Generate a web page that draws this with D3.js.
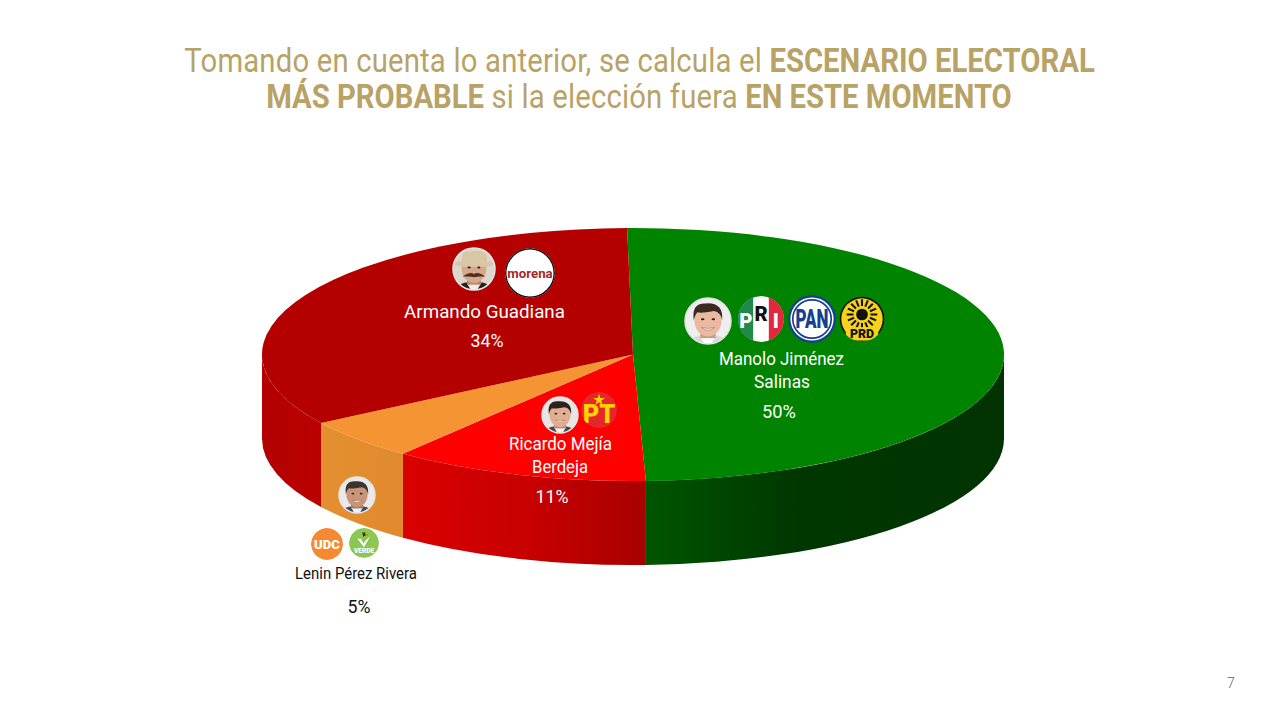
<!DOCTYPE html>
<html>
<head>
<meta charset="utf-8">
<style>
html, body { margin: 0; background: #fff; }
svg { display: block; }
text { font-family: Roboto, sans-serif; }
</style>
<script src="https://cdn.jsdelivr.net/npm/d3@7/dist/d3.min.js"></script>
</head>
<body>
<svg id="chart" width="1280" height="720"></svg>
<script>
"use strict";

// chart data, clockwise from the top of the pie
const candidates = ["Manolo Jiménez Salinas", "Ricardo Mejía Berdeja", "Lenin Pérez Rivera", "Armando Guadiana"];
// printed percentages
const shareLabels = ["50%", "11%", "5%", "34%"];
const sliceSizes = [49.7, 11.2, 5.25, 33.85];
const titleLine1 = [["Tomando en cuenta lo anterior, se calcula el ", false], ["ESCENARIO ELECTORAL", true]];
const titleLine2 = [["MÁS PROBABLE", true], [" si la elección fuera ", false], ["EN ESTE MOMENTO", true]];
const pageNumber = "7";

const svg = d3.select("#chart");
const cx = 633, cy = 354.5, rx = 371, ry = 126.5, depth = 84;
const startAngle = -0.016;

const topColors = ["#008400", "#fe0000", "#f59432", "#b50000"];
const wallStops = [
    [[0, "#005500"], [0.42, "#003700"], [1, "#003300"]],
    [[0, "#da0000"], [0.55, "#c60000"], [1, "#a80000"]],
    [[0, "#e48f30"], [1, "#e08a2d"]],
    [[0, "#b30000"], [0.6, "#b80000"], [1, "#bc0000"]]
];

const defs = svg.append("defs");

// angle on the pie -> point on the flattened ellipse
const px = a => cx + rx * Math.sin(a);
const py = a => cy - ry * Math.cos(a);

const slices = d3.pie().sort(null).startAngle(startAngle).endAngle(2 * Math.PI + startAngle)(sliceSizes);

// side walls, only the part of each slice that faces the viewer
const gWalls = svg.append("g");
slices.forEach((s, i) => {
    let a0 = Math.max(s.startAngle, Math.PI / 2);
    let a1 = Math.min(s.endAngle, 3 * Math.PI / 2);
    if (a1 <= a0) return;

    let grad = defs.append("linearGradient")
        .attr("id", "wall" + i)
        .attr("gradientUnits", "userSpaceOnUse")
        .attr("x1", Math.min(px(a0), px(a1))).attr("x2", Math.max(px(a0), px(a1)))
        .attr("y1", 0).attr("y2", 0);
    grad.selectAll("stop").data(wallStops[i]).enter().append("stop")
        .attr("offset", d => d[0]).attr("stop-color", d => d[1]);

    gWalls.append("path")
        .attr("d", `M${px(a0)},${py(a0)} A${rx},${ry} 0 0 1 ${px(a1)},${py(a1)}` +
            ` L${px(a1)},${py(a1) + depth} A${rx},${ry} 0 0 0 ${px(a0)},${py(a0) + depth} Z`)
        .attr("fill", `url(#wall${i})`);
});

// top face: a normal d3 arc squashed into an ellipse
const arc = d3.arc().innerRadius(0).outerRadius(rx);
svg.append("g")
    .attr("transform", `translate(${cx},${cy}) scale(1,${ry / rx})`)
    .selectAll("path")
    .data(slices)
    .enter()
    .append("path")
    .attr("d", arc)
    .attr("fill", (d, i) => topColors[i]);

// no condensed Roboto installed, so squeeze each line to its width
function fitText(sel, x, y, width) {
    let len = sel.node().getComputedTextLength();
    sel.attr("text-anchor", "middle")
        .attr("transform", `translate(${x},${y}) scale(${width / len},1)`);
    return sel;
}

function titleRow(parts, x, y, width) {
    let t = svg.append("text").attr("font-size", 33).attr("fill", "#b8a266");
    parts.forEach(p => {
        t.append("tspan")
            .attr("font-weight", p[1] ? 700 : 400)
            .attr("letter-spacing", p[1] ? 0 : 0.2)
            .style("white-space", "pre")
            .text(p[0]);
    });
    t.attr("xml:space", "preserve");
    fitText(t, x, y, width);
}
titleRow(titleLine1, 639.5, 72, 911);
titleRow(titleLine2, 639, 108, 746);

function label(str, x, y, width, size, color) {
    let t = svg.append("text")
        .attr("font-size", size)
        .attr("fill", color)
        .attr("font-weight", 400)
        .text(str);
    fitText(t, x, y, width);
}

const white = "#ffffff";
label(candidates[3], 484.5, 318, 161, 19, white);
label(shareLabels[3], 487, 347, 33, 19, white);
label("Manolo Jiménez", 781.5, 365, 125, 19, white);
label("Salinas", 782, 388, 56, 19, white);
label(shareLabels[0], 779, 418, 34, 19, white);
label("Ricardo Mejía", 560.5, 450, 103, 19, white);
label("Berdeja", 560, 473, 56, 19, white);
label(shareLabels[1], 552, 503, 33, 19, white);
label(candidates[2], 356, 579, 122, 16.5, "#111111");
label(shareLabels[2], 359, 613, 23, 19, "#111111");

svg.append("text")
    .attr("x", 1231).attr("y", 688)
    .attr("text-anchor", "middle")
    .attr("font-size", 14)
    .attr("font-weight", 300)
    .attr("fill", "#666666")
    .text(pageNumber);

// round badge with its own clip, drawn in a 100x100 box around 0,0
let clipCount = 0;
function badge(x, y, r) {
    let id = "clip" + (clipCount += 1);
    defs.append("clipPath").attr("id", id).append("circle").attr("r", 50);
    let g = svg.append("g").attr("transform", `translate(${x},${y}) scale(${r / 50})`);
    return g.append("g").attr("clip-path", `url(#${id})`);
}

function face(x, y, r, o) {
    let outer = badge(x, y, r);
    outer.append("rect").attr("x", -50).attr("y", -50).attr("width", 100).attr("height", 100).attr("fill", o.bg);
    // head fills most of the circle in these photos
    let g = outer.append("g").attr("transform", "translate(0,4) scale(1.28)");
    g.append("ellipse").attr("cy", 50).attr("rx", 46).attr("ry", 30).attr("fill", o.suit);
    g.append("path").attr("d", "M-14,22 L0,46 L14,22 Z").attr("fill", o.shirt);
    g.append("rect").attr("x", -13).attr("y", 8).attr("width", 26).attr("height", 18).attr("fill", o.skinDark);
    g.append("ellipse").attr("cy", -4).attr("rx", 23).attr("ry", 27).attr("fill", o.skin);
    if (o.hat) {
        g.append("path").attr("d", "M-39,-12 Q-24,-22 -22,-14 Q-26,-40 -6,-35 Q8,-40 22,-33 Q26,-24 23,-14 Q28,-22 39,-12 Q20,-4 0,-8 Q-20,-4 -39,-12 Z").attr("fill", o.hat);
    } else {
        g.append("path").attr("d", "M-24,-4 Q-29,-34 -4,-33 Q27,-35 24,-4 Q22,-18 10,-20 Q-12,-16 -18,-18 Q-22,-14 -24,-4 Z").attr("fill", o.hair);
    }
    g.append("ellipse").attr("cx", -9).attr("cy", -6).attr("rx", 3).attr("ry", 1.8).attr("fill", "#2a1c14");
    g.append("ellipse").attr("cx", 9).attr("cy", -6).attr("rx", 3).attr("ry", 1.8).attr("fill", "#2a1c14");
    if (o.moustache) {
        g.append("path").attr("d", "M-21,11 Q-8,1 0,6 Q8,1 21,11 Q8,10 0,12 Q-8,10 -21,11 Z").attr("fill", o.moustache);
    } else {
        g.append("path").attr("d", "M-11,8 Q0,17 11,8 Q0,11 -11,8 Z").attr("fill", "#ffffff").attr("stroke", "#8a5a48").attr("stroke-width", 0.8);
    }
    svg.append("circle")
        .attr("cx", x).attr("cy", y).attr("r", r)
        .attr("fill", "none").attr("stroke", "#e4e4e4").attr("stroke-width", 1.5);
}

function logoText(g, str, y, size, color, weight, sx) {
    g.append("text")
        .attr("text-anchor", "middle")
        .attr("transform", `translate(0,${y}) scale(${sx || 1},1)`)
        .attr("font-size", size)
        .attr("font-weight", weight || 900)
        .attr("fill", color)
        .text(str);
}

function background(g, color) {
    g.append("circle").attr("r", 50).attr("fill", color);
}

// Armando Guadiana + morena
face(474, 269, 21, { bg: "#dcd6cc", suit: "#26201c", shirt: "#eeeeee", skin: "#d9a88c", skinDark: "#b98770", hat: "#d8c6a4", moustache: "#4e2f22" });
let morena = badge(530, 273, 25);
background(morena, "#ffffff");
morena.append("circle").attr("r", 48.5).attr("fill", "none").attr("stroke", "#111111").attr("stroke-width", 3);
logoText(morena, "morena", 9, 27, "#a8262a", 700, 0.98);

// Manolo Jiménez + PRI, PAN, PRD
face(708, 321, 23, { bg: "#eeeeee", suit: "#d9d9d9", shirt: "#ffffff", skin: "#eab9a0", skinDark: "#cf9a82", hair: "#3a2a22" });

let pri = badge(761, 319, 23);
background(pri, "#ffffff");
pri.append("rect").attr("x", -50).attr("y", -50).attr("width", 33).attr("height", 100).attr("fill", "#1f8a4c");
pri.append("rect").attr("x", 17).attr("y", -50).attr("width", 33).attr("height", 100).attr("fill", "#e2283a");
pri.append("text").attr("x", -33).attr("y", 20).attr("text-anchor", "middle").attr("font-size", 44).attr("font-weight", 900).attr("fill", "#ffffff").text("P");
pri.append("text").attr("x", 0).attr("y", 4).attr("text-anchor", "middle").attr("font-size", 44).attr("font-weight", 900).attr("fill", "#111111").text("R");
pri.append("text").attr("x", 32).attr("y", 20).attr("text-anchor", "middle").attr("font-size", 44).attr("font-weight", 900).attr("fill", "#ffffff").text("I");

let pan = badge(812, 319, 24);
background(pan, "#13418f");
pan.append("circle").attr("r", 45).attr("fill", "#ffffff");
pan.append("circle").attr("r", 40).attr("fill", "none").attr("stroke", "#13418f").attr("stroke-width", 3.5);
logoText(pan, "PAN", 19, 52, "#13418f", 900, 0.68);

let prd = badge(862, 319, 22.5);
background(prd, "#111111");
prd.append("circle").attr("r", 46).attr("fill", "#f6d21a");
prd.selectAll("line")
    .data(d3.range(16))
    .enter()
    .append("line")
    .attr("x1", d => 19 * Math.sin(d * Math.PI / 8))
    .attr("y1", d => -10 - 19 * Math.cos(d * Math.PI / 8))
    .attr("x2", d => 34 * Math.sin(d * Math.PI / 8))
    .attr("y2", d => -10 - 34 * Math.cos(d * Math.PI / 8))
    .attr("stroke", "#111111")
    .attr("stroke-width", 4.5);
prd.append("circle").attr("cy", -10).attr("r", 13).attr("fill", "#111111");
prd.append("rect").attr("x", -36).attr("y", 18).attr("width", 72).attr("height", 30).attr("fill", "#f6d21a");
logoText(prd, "PRD", 43, 29, "#111111", 900, 0.95);

// Ricardo Mejía + PT
face(560, 415, 18, { bg: "#e6e6e6", suit: "#43474f", shirt: "#f2f2f2", skin: "#e2ae92", skinDark: "#c08c74", hair: "#2c211c" });
let pt = badge(599, 410, 18);
background(pt, "#e5262a");
pt.append("path")
    .attr("d", d3.symbol().type(d3.symbolStar).size(330)())
    .attr("transform", "translate(0,-28)")
    .attr("fill", "#ffd400");
logoText(pt, "PT", 36, 72, "#ffd400", 900, 0.98);

// Lenin Pérez + UDC, Verde
face(357, 495, 18, { bg: "#e9e9e9", suit: "#3a4a66", shirt: "#eef0f4", skin: "#c99478", skinDark: "#a87860", hair: "#3b3532" });
let udc = badge(327, 544, 16);
background(udc, "#f58a33");
logoText(udc, "UDC", 15, 42, "#ffffff", 900, 0.98);
let verde = badge(364, 543, 15);
background(verde, "#8cc751");
verde.append("path").attr("d", "M-22,-14 L0,14 L20,-22 L6,-8 L-2,2 L-10,-14 Z").attr("fill", "#ffffff");
verde.append("path").attr("d", "M-6,-34 Q8,-40 14,-26 Q4,-28 -2,-20 Z").attr("fill", "#1d3a20");
verde.append("path").attr("d", "M2,-34 Q14,-36 20,-26 Q12,-30 6,-27 Z").attr("fill", "#f2a72c");
logoText(verde, "VERDE", 34, 23, "#ffffff", 900, 0.95);
</script>
</body>
</html>
